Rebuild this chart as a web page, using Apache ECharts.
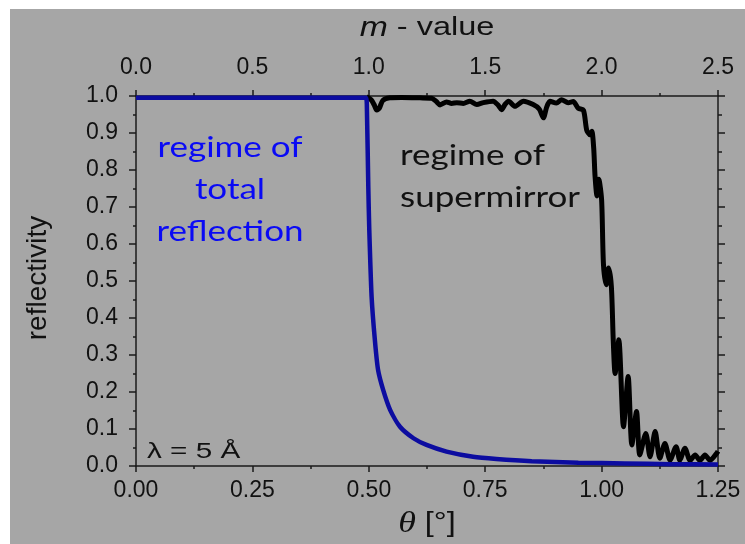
<!DOCTYPE html>
<html>
<head>
<meta charset="utf-8">
<script src="https://cdn.jsdelivr.net/npm/echarts@6/dist/echarts.min.js"></script>
<style>
  html, body { margin: 0; padding: 0; background: #fff; }
  #chart { width: 745px; height: 544px; }
</style>
</head>
<body>
<div id="chart"></div>
<script>
// total reflection curve (blue), theta in degrees
const thetaTotal = [0, 0.25, 0.494, 0.496, 0.499, 0.501, 0.506, 0.513, 0.520, 0.531, 0.546, 0.567, 0.596, 0.624, 0.667, 0.724, 0.774, 0.85, 0.95, 1.05, 1.15, 1.25]
const reflTotal = [0.995, 0.995, 0.995, 0.96, 0.75, 0.64, 0.458, 0.341, 0.259, 0.205, 0.151, 0.106, 0.075, 0.057, 0.039, 0.025, 0.019, 0.013, 0.009, 0.007, 0.005, 0.004]

// supermirror curve (black)
const thetaMirror = [0.495, 0.505, 0.512, 0.517, 0.523, 0.530, 0.545, 0.570, 0.610, 0.635, 0.645, 0.653, 0.667, 0.678, 0.689, 0.703,
  0.717, 0.732, 0.746, 0.767, 0.778, 0.785, 0.793, 0.800, 0.814, 0.832, 0.853, 0.866, 0.875, 0.882, 0.889, 0.903, 0.914, 0.928,
  0.939, 0.950, 0.961, 0.968, 0.975, 0.979, 0.983, 0.986, 0.990, 0.994, 1.000, 1.004, 1.010, 1.015, 1.021, 1.025, 1.029, 1.037,
  1.047, 1.057, 1.065, 1.075, 1.082, 1.095, 1.104, 1.115, 1.125, 1.136, 1.147, 1.160, 1.168, 1.179, 1.190, 1.201, 1.211, 1.222,
  1.233, 1.247, 1.250]
const reflMirror = [0.998, 0.99, 0.975, 0.962, 0.968, 0.988, 0.995, 0.996, 0.995, 0.994, 0.985, 0.976, 0.984, 0.980, 0.982, 0.980,
  0.986, 0.977, 0.982, 0.986, 0.975, 0.963, 0.978, 0.986, 0.972, 0.986, 0.977, 0.965, 0.941, 0.970, 0.986, 0.981, 0.990, 0.982,
  0.985, 0.967, 0.962, 0.908, 0.895, 0.905, 0.86, 0.782, 0.73, 0.775, 0.72, 0.545, 0.49, 0.535, 0.485, 0.34, 0.25, 0.341,
  0.106, 0.242, 0.057, 0.147, 0.030, 0.088, 0.025, 0.093, 0.021, 0.061, 0.016, 0.052, 0.016, 0.048, 0.015, 0.030, 0.015, 0.030,
  0.015, 0.034, 0.040]

// axis ranges: [min, max, interval]
const thetaTicks = [0, 1.25, 0.25]
const mTicks = [0, 2.5, 0.5]
const reflTicks = [0, 1, 0.1]

const zip = (xs, ys) => xs.map((x, i) => [x, ys[i]])

const chart = echarts.init(document.getElementById('chart'))

const axisColor = '#1a1a1a'
const sans = '"Liberation Sans", Arial, sans-serif'
const labelFont = {
  color: '#111',
  fontSize: 21,
  fontFamily: sans
}

function axisStyle(tickLen, minorLen) {
  return {
    axisLine: { show: true, onZero: false, lineStyle: { color: axisColor, width: 1.5 } },
    axisTick: { show: true, inside: false, length: tickLen, lineStyle: { color: axisColor, width: 1.5 } },
    minorTick: { show: true, splitNumber: 2, length: minorLen, lineStyle: { color: axisColor, width: 1.5 } },
    splitLine: { show: false }
  }
}

const option = {
  animation: false,
  backgroundColor: '#fff',
  grid: {
    left: 136,
    right: 27,
    top: 96,
    bottom: 78
  },
  graphic: [
    {
      type: 'rect',
      z: -10,
      shape: { x: 10, y: 9, width: 735, height: 535 },
      style: { fill: '#a6a6a6' }
    },
    {
      type: 'text',
      x: 427,
      y: 28,
      scaleX: 1.25,
      style: {
        text: '{i|m} - value',
        align: 'center',
        verticalAlign: 'middle',
        fill: '#111',
        font: '26px ' + sans,
        rich: {
          i: { font: 'italic 27px ' + sans, fill: '#111' }
        }
      }
    },
    {
      type: 'text',
      x: 427,
      y: 524,
      scaleX: 1.2,
      style: {
        text: '{i|θ} [°]',
        align: 'center',
        verticalAlign: 'middle',
        fill: '#111',
        font: '27px ' + sans,
        rich: {
          i: { font: 'italic 30px "Liberation Serif", serif', fill: '#111' }
        }
      }
    },
    {
      type: 'text',
      x: 38,
      y: 278,
      rotation: Math.PI / 2,
      style: {
        text: 'reflectivity',
        align: 'center',
        verticalAlign: 'middle',
        fill: '#111',
        font: '28px ' + sans
      }
    },
    {
      type: 'text',
      x: 230,
      y: 190,
      scaleX: 1.25,
      style: {
        text: 'regime of\ntotal\nreflection',
        align: 'center',
        verticalAlign: 'middle',
        lineHeight: 42,
        fill: '#0a0af5',
        font: '28px Lato, sans-serif'
      }
    },
    {
      type: 'text',
      x: 400,
      y: 177,
      scaleX: 1.25,
      style: {
        text: 'regime of\nsupermirror',
        align: 'left',
        verticalAlign: 'middle',
        lineHeight: 42,
        fill: '#111',
        font: '28px Lato, sans-serif'
      }
    },
    {
      type: 'text',
      x: 147,
      y: 452,
      scaleX: 1.35,
      style: {
        text: 'λ = 5 Å',
        align: 'left',
        verticalAlign: 'middle',
        fill: '#111',
        font: '22px ' + sans
      }
    }
  ],
  xAxis: [
    {
      type: 'value',
      position: 'bottom',
      min: thetaTicks[0],
      max: thetaTicks[1],
      interval: thetaTicks[2],
      ...axisStyle(6, 3),
      axisLabel: {
        ...labelFont,
        fontSize: 23,
        margin: 13,
        formatter: v => v.toFixed(2)
      }
    },
    {
      type: 'value',
      position: 'top',
      min: mTicks[0],
      max: mTicks[1],
      interval: mTicks[2],
      ...axisStyle(6, 3),
      axisLabel: {
        ...labelFont,
        fontSize: 23,
        margin: 17,
        formatter: v => v.toFixed(1)
      }
    }
  ],
  yAxis: [
    {
      type: 'value',
      position: 'left',
      min: reflTicks[0],
      max: reflTicks[1],
      interval: reflTicks[2],
      ...axisStyle(7, 3),
      axisLabel: {
        ...labelFont,
        fontSize: 23,
        margin: 18,
        formatter: v => v.toFixed(1)
      }
    },
    {
      type: 'value',
      position: 'right',
      min: reflTicks[0],
      max: reflTicks[1],
      interval: reflTicks[2],
      ...axisStyle(7, 4),
      axisLabel: { show: false }
    }
  ],
  series: [
    {
      name: 'supermirror',
      type: 'line',
      xAxisIndex: 0,
      yAxisIndex: 0,
      showSymbol: false,
      smooth: 0.25,
      lineStyle: { color: '#000', width: 5 },
      data: zip(thetaMirror, reflMirror)
    },
    {
      name: 'total reflection',
      type: 'line',
      xAxisIndex: 0,
      yAxisIndex: 0,
      showSymbol: false,
      smooth: 0.2,
      lineStyle: { color: '#0c0ca0', width: 4.5 },
      data: zip(thetaTotal, reflTotal)
    }
  ]
}

chart.setOption(option)
</script>
</body>
</html>
